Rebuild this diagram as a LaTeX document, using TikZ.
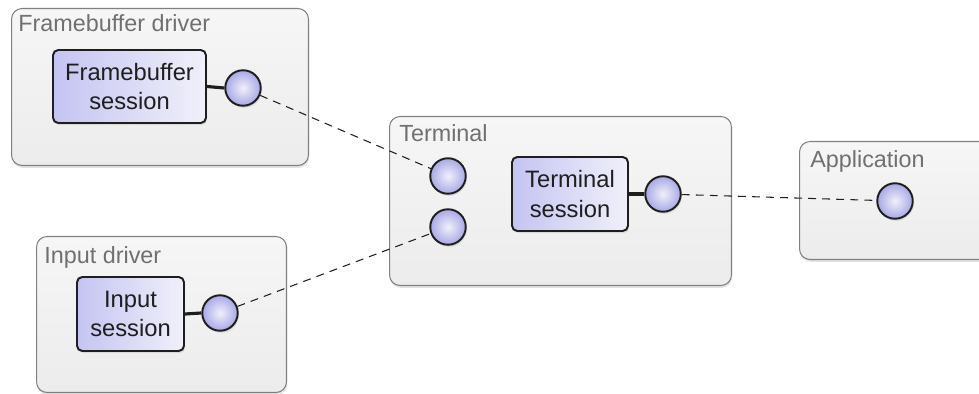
\documentclass[tikz,border=0pt]{standalone}
\usepackage{fontspec}
\setmainfont{Liberation Sans}
\usepackage{xcolor}
\definecolor{lav}{RGB}{196,196,242}
\definecolor{lavpale}{RGB}{240,240,250}
\definecolor{lavdeep}{RGB}{168,168,230}
\definecolor{shell}{RGB}{236,236,236}
\definecolor{shelltop}{RGB}{246,246,246}
\definecolor{rim}{RGB}{128,128,128}
\definecolor{ink}{RGB}{30,30,30}
\definecolor{dim}{RGB}{112,112,112}
\usepackage{tikz}
\usetikzlibrary{positioning,shadows,calc}
\tikzset{
  %% Outer boxes: components
  compbox/.style={
    draw=rim, line width=0.6pt, rounded corners=6pt,
    top color=shelltop, bottom color=shell,
    anchor=north west, inner sep=0pt,
    drop shadow={opacity=0.22, shadow xshift=0.4pt, shadow yshift=-1.4pt},
  },
  complabel/.style={
    anchor=north west, text=dim, inner sep=0pt,
    font=\fontsize{13.3}{16}\selectfont,
  },
  %% Inner boxes: sessions
  session/.style={
    draw=ink, line width=1.1pt, rounded corners=3pt,
    left color=lav, right color=lavpale,
    align=center, text=ink, inner sep=0pt,
    font=\fontsize{13.5}{17}\selectfont,
    drop shadow={opacity=0.2, shadow xshift=0.6pt, shadow yshift=-1.2pt},
  },
  port/.style={
    circle, draw=ink, line width=1.1pt,
    inner color=lavpale, outer color=lavdeep,
    minimum size=0.71cm, inner sep=0pt,
    drop shadow={opacity=0.2, shadow xshift=0.6pt, shadow yshift=-1.2pt},
  },
  wire/.style={draw=ink, line width=1.8pt},
  link/.style={draw=ink, line width=0.6pt, dash pattern=on 4.5pt off 3.5pt},
}

\begin{document}
\begin{tikzpicture}[x=0.02cm,y=-0.02cm]
\useasboundingbox (0,0) rectangle (979,394);

% framebuffer driver
\node[compbox, minimum width=5.94cm, minimum height=3.14cm] (fbdrv) at (11,8) {};
\node[complabel] (fblabel) at ($(fbdrv.north west)+(7,6)$) {Framebuffer driver};
\node[session, minimum width=3.06cm, minimum height=1.46cm] (fbsess) at (129.5,86.5)
  {Framebuffer\\session};
\node[port] (fbport) at (243,88) {};
\draw[wire] (fbsess.east) -- (fbport.west);

% input driver
\node[compbox, minimum width=5.0cm, minimum height=3.12cm] (indrv) at (36,236) {};
\node[complabel] (inlabel) at ($(indrv.north west)+(8,10)$) {Input driver};
\node[session, minimum width=2.14cm, minimum height=1.48cm] (insess) at (130.5,314)
  {Input\\session};
\node[port] (inport) at (220,313) {};
\draw[wire] (insess.east) -- (inport.west);

% terminal
\node[compbox, minimum width=6.84cm, minimum height=3.38cm] (term) at (389,116) {};
\node[complabel] (termlabel) at ($(term.north west)+(10,8)$) {Terminal};
\node[port] (fbin) at (448,176) {};
\node[port] (inin) at (448,227) {};
\node[session, minimum width=2.32cm, minimum height=1.48cm] (termsess) at (570,194)
  {Terminal\\session};
\node[port] (termport) at (663,194) {};
\draw[wire] (termsess.east) -- (termport.west);

% application
\node[compbox, minimum width=4.2cm, minimum height=2.36cm] (app) at (799,141) {};
\node[complabel] (applabel) at ($(app.north west)+(11,9)$) {Application};
\node[port] (appin) at (895,201) {};

% session routes
\draw[link] (fbport) -- (fbin);
\draw[link] (inport) -- (inin);
\draw[link] (termport) -- (appin);
\end{tikzpicture}
\end{document}
